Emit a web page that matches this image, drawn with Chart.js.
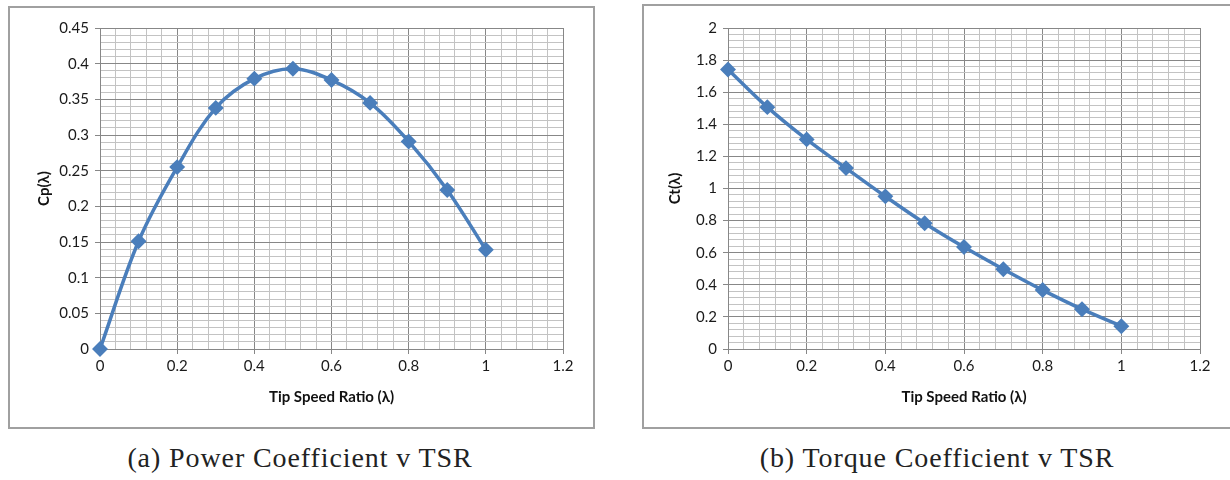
<!DOCTYPE html>
<html lang="en">

<head>
    <meta charset="UTF-8">
    <title>Power and Torque Coefficient v TSR</title>
    <script src="https://cdn.jsdelivr.net/npm/chart.js"></script>
    <style>
        body { margin: 0; background: #fff; width: 1230px; height: 480px; overflow: hidden; position: relative; }
        .caixa { position: absolute; border: 2px solid #a0a0a0; background: #fff; }
        .legenda { position: absolute; font-family: "Liberation Serif", "DejaVu Serif", serif; font-size: 28px; letter-spacing: 0.9px; color: #222; text-align: center; }
    </style>
</head>

<body>
    <div class="caixa" style="left:8px; top:6px; width:583px; height:419px;">
        <canvas id="chartCp" width="583" height="419"></canvas>
    </div>
    <div class="caixa" style="left:642px; top:4px; width:600px; height:421px;">
        <canvas id="chartCt" width="586" height="421"></canvas>
    </div>
    <div class="legenda" style="left:0; width:600px; top:442px;">(a) Power Coefficient v TSR</div>
    <div class="legenda" style="left:637px; width:600px; top:442px;">(b) Torque Coefficient v TSR</div>

<script>
    // valores
    var tsr = [0, 0.1, 0.2, 0.3, 0.4, 0.5, 0.6, 0.7, 0.8, 0.9, 1.0];
    var cp = [0, 0.151, 0.255, 0.338, 0.379, 0.393, 0.377, 0.345, 0.291, 0.223, 0.139];
    var ct = [1.742, 1.507, 1.306, 1.127, 0.951, 0.784, 0.635, 0.497, 0.367, 0.248, 0.142];

    var azul = '#4a7ebb';
    var corMaior = '#878787';
    var corMenor = '#c3c3c3';
    var fonteTick = { family: 'Lato, "Open Sans", sans-serif', size: 15 };
    var fonteTitulo = { family: 'Lato, "Open Sans", sans-serif', size: 15, weight: 'bold' };

    function ehMaior(v, passo) {
        return Math.abs(v / passo - Math.round(v / passo)) < 1e-6;
    }

    function pontos(ys) {
        return tsr.map(function (x, i) { return { x: x, y: ys[i] }; });
    }

    function montaGrafico(id, ys, tituloY, yMax, yMaior, yMenor, pad) {
        var ctx = document.getElementById(id).getContext('2d');
        return new Chart(ctx, {
            type: 'line',
            data: {
                datasets: [{
                    data: pontos(ys),
                    borderColor: azul,
                    backgroundColor: azul,
                    borderWidth: 3.5,
                    tension: 0.35,
                    pointStyle: 'rectRot',
                    pointRadius: 5.5,
                    pointHoverRadius: 5.5,
                    clip: false
                }]
            },
            options: {
                responsive: false,
                animation: false,
                layout: { padding: { left: 0, right: pad.right, top: pad.top, bottom: 0 } },
                plugins: { legend: { display: false }, tooltip: { enabled: false } },
                scales: {
                    x: {
                        type: 'linear',
                        min: 0,
                        max: 1.2,
                        afterFit: function (s) { s.height = pad.xAltura; },
                        ticks: {
                            stepSize: 0.04,
                            autoSkip: false,
                            maxRotation: 0,
                            padding: 3,
                            color: '#1a1a1a',
                            font: fonteTick,
                            callback: function (v) {
                                return ehMaior(v, 0.2) ? String(Math.round(v * 10) / 10) : '';
                            }
                        },
                        grid: {
                            color: function (c) { return ehMaior(c.tick.value, 0.2) ? corMaior : corMenor; },
                            tickColor: function (c) { return ehMaior(c.tick.value, 0.2) ? corMaior : 'transparent'; },
                            tickLength: 5
                        },
                        border: { color: corMaior },
                        title: { display: true, text: 'Tip Speed Ratio (λ)', color: '#111', font: fonteTitulo, padding: { top: 0, bottom: 21 } }
                    },
                    y: {
                        min: 0,
                        max: yMax,
                        afterFit: function (s) { s.width = pad.yLargura; },
                        ticks: {
                            stepSize: yMenor,
                            autoSkip: false,
                            padding: 6,
                            color: '#1a1a1a',
                            font: fonteTick,
                            callback: function (v) {
                                return ehMaior(v, yMaior) ? String(Math.round(v * 100) / 100) : '';
                            }
                        },
                        grid: {
                            color: function (c) { return ehMaior(c.tick.value, yMaior) ? corMaior : corMenor; },
                            tickColor: function (c) { return ehMaior(c.tick.value, yMaior) ? corMaior : 'transparent'; },
                            tickLength: 5
                        },
                        border: { color: corMaior },
                        title: { display: true, text: tituloY, color: '#111', font: fonteTitulo, padding: { top: pad.tituloY, bottom: 0 } }
                    }
                }
            }
        });
    }

    var graficoCp = montaGrafico('chartCp', cp, 'Cp(λ)', 0.45, 0.05, 0.01,
        { right: 30, top: 20, xAltura: 78, yLargura: 90, tituloY: 25 });
    var graficoCt = montaGrafico('chartCt', ct, 'Ct(λ)', 2, 0.2, 0.04,
        { right: 30, top: 22, xAltura: 78, yLargura: 84, tituloY: 22 });
</script>
</body>

</html>
